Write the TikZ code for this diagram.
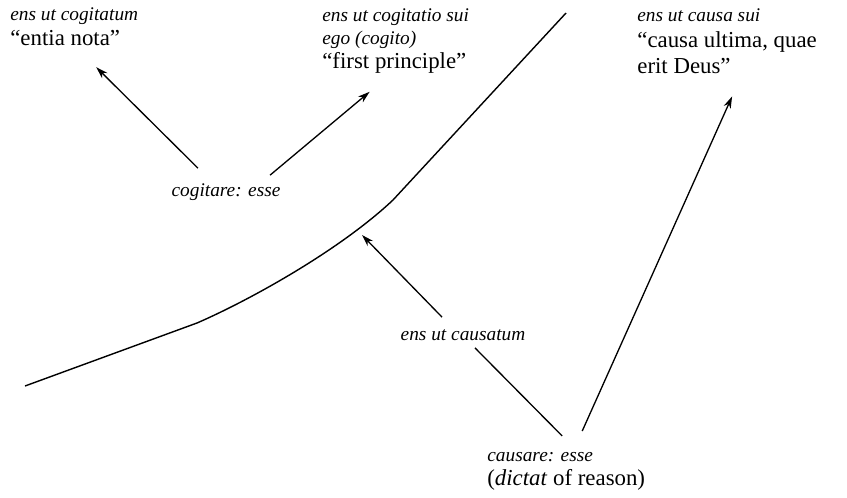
\documentclass[tikz,border=0pt]{standalone}
\usepackage{fontspec}
\setmainfont{Liberation Serif}
\usetikzlibrary{arrows.meta, calc}
\newcommand{\lat}[1]{{\fontsize{11}{13.5}\selectfont\itshape #1}}
\tikzset{
  >=Stealth,
  x=0.02cm, y=-0.02cm,
  font=\fontsize{13}{13.5}\selectfont,
  txt/.style={inner sep=0pt, align=left},
  arr/.style={-{Stealth[length=2.4mm,width=1.5mm]}, line width=0.75pt},
  plain/.style={line width=0.75pt},
  limit/.style={line width=0.8pt}
}
\begin{document}
\begin{tikzpicture}
  \useasboundingbox (0,0) rectangle (847,497);
  % what is known, thought and caused
  \node[txt, anchor=north west] (nota) at (10,7)
    {\lat{ens ut cogitatum}\\[1pt]``entia nota''};
  \node[txt, anchor=north west] (prin) at (322,8)
    {\lat{ens ut cogitatio sui}\\\lat{ego (cogito)}\\``first principle''};
  \node[txt, anchor=north west] (deus) at (637,8)
    {\lat{ens ut causa sui}\\[1.5pt]``causa ultima, quae\\[1.5pt]erit Deus''};
  \node[txt] (cog) at (226,192) {\lat{cogitare: esse}};
  \node[txt] (causatum) at (463,335) {\lat{ens ut causatum}};
  \node[txt, anchor=north west] (causare) at (487,452)
    {\lat{causare: esse}\\(\textit{dictat} of reason)};
  % the limit of reason
  \draw[limit] (25,386) -- (197,323) .. controls (250,300) and (340,250) .. (393,200) -- (566,13);
  \coordinate (hit) at (362,235);
  % arrows
  \draw[arr] ($(cog.north)+(-28,-15)$) -- ($(nota.south)+(22,21)$);
  \draw[arr] ($(cog.north)+(44,-8)$) -- ($(prin.south)+(-26,18)$);
  \draw[arr] ($(causatum.north)+(-21,-12)$) -- (hit);
  \draw[plain] ($(causatum.south)+(12,7)$) -- ($(causare.north)+(-4,-16)$);
  \draw[arr] ($(causare.north)+(16,-21)$) -- ($(deus.south)+(5,22)$);
\end{tikzpicture}
\end{document}
